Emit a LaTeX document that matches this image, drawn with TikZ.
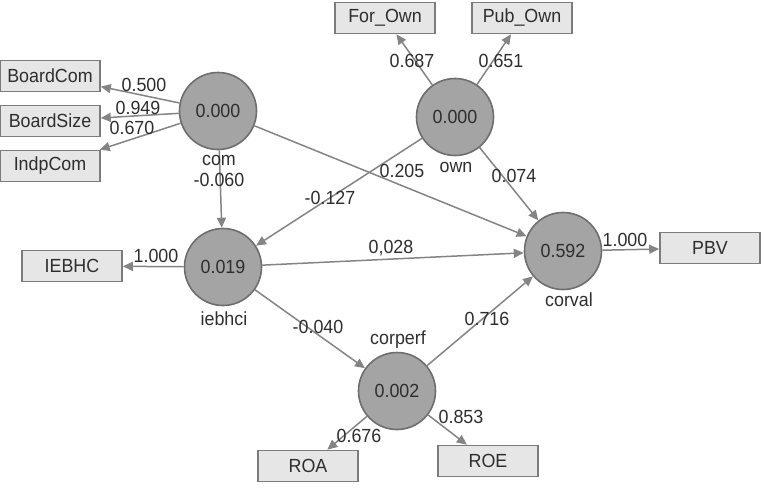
\documentclass[tikz,border=0pt]{standalone}
\usepackage{fontspec}
\setmainfont[FakeStretch=0.94]{Liberation Sans}
\usepackage{tikz,xcolor}
\usetikzlibrary{arrows.meta}
\definecolor{latfill}{HTML}{A4A4A4}
\definecolor{latdraw}{HTML}{6E6E6E}
\definecolor{indfill}{HTML}{E6E6E6}
\definecolor{inddraw}{HTML}{7C7C7C}
\definecolor{edgecol}{HTML}{848484}
\definecolor{txtcol}{HTML}{2E2E2E}

\tikzset{
  lat/.style={circle,draw=latdraw,fill=latfill,line width=1.6pt,minimum size=77pt,inner sep=0pt,text=txtcol,font=\fontsize{19}{21}\selectfont},
  ind/.style={draw=inddraw,fill=indfill,line width=1.6pt,minimum width=100pt,minimum height=31pt,inner sep=0pt,text=txtcol,font=\fontsize{19}{21}\selectfont},
  link/.style={draw=edgecol,line width=1.5pt,-{Triangle[length=10pt,width=9pt]}},
  wt/.style={inner sep=0pt,text=txtcol,font=\fontsize{19}{21}\selectfont}
}

\begin{document}
\begin{tikzpicture}[x=1pt,y=-1pt]
\useasboundingbox (0,0) rectangle (765,487);
% latent variables
\node[lat] (com) at (218,111) {0.000};
\node[lat] (own) at (455,117) {0.000};
\node[lat] (iebhci) at (223,267) {0.019};
\node[lat] (corval) at (563,251) {0.592};
\node[lat] (corperf) at (397,391) {0.002};
% indicators
\node[ind] (BoardCom) at (50,76) {BoardCom};
\node[ind] (BoardSize) at (50,121) {BoardSize};
\node[ind] (IndpCom) at (50,166) {IndpCom};
\node[ind] (ForOwn) at (385,18) {For\_Own};
\node[ind] (PubOwn) at (522,18) {Pub\_Own};
\node[ind] (IEBHC) at (72,266) {IEBHC};
\node[ind] (PBV) at (710,248) {PBV};
\node[ind] (ROA) at (308,466) {ROA};
\node[ind] (ROE) at (488,461) {ROE};
% outer model
\draw[link] (com) -- (BoardCom);
\draw[link] (com) -- (BoardSize);
\draw[link] (com) -- (IndpCom);
\draw[link] (own) -- (ForOwn);
\draw[link] (own) -- (PubOwn);
\draw[link] (iebhci) -- (IEBHC);
\draw[link] (corval) -- (PBV);
\draw[link] (corperf) -- (ROA);
\draw[link] (corperf) -- (ROE);
% inner model
\draw[link] (com) -- (iebhci);
\draw[link] (com) -- (corval);
\draw[link] (own) -- (iebhci);
\draw[link] (own) -- (corval);
\draw[link] (iebhci) -- (corval);
\draw[link] (iebhci) -- (corperf);
\draw[link] (corperf) -- (corval);
% names
\node[wt] (ncom) at (219,160) {com};
\node[wt] (nown) at (456,167) {own};
\node[wt] (niebhci) at (224,319) {iebhci};
\node[wt] (ncorval) at (569,300) {corval};
\node[wt] (ncorperf) at (398,340) {corperf};
% weights
\node[wt] (w1) at (144,85) {0.500};
\node[wt] (w2) at (138,108) {0.949};
\node[wt] (w3) at (132,128) {0.670};
\node[wt] (w4) at (412,61) {0.687};
\node[wt] (w5) at (501,61) {0.651};
\node[wt] (w6) at (156,256) {1.000};
\node[wt] (w7) at (625,240) {1.000};
\node[wt] (w8) at (359,436) {0.676};
\node[wt] (w9) at (461,417) {0.853};
\node[wt] (p1) at (219,180) {-0.060};
\node[wt] (p2) at (402,171) {0.205};
\node[wt] (p3) at (330,198) {-0.127};
\node[wt] (p4) at (514,176) {0.074};
\node[wt] (p5) at (391,248) {0,028};
\node[wt] (p6) at (318,327) {-0.040};
\node[wt] (p7) at (487,319) {0.716};
\end{tikzpicture}
\end{document}
